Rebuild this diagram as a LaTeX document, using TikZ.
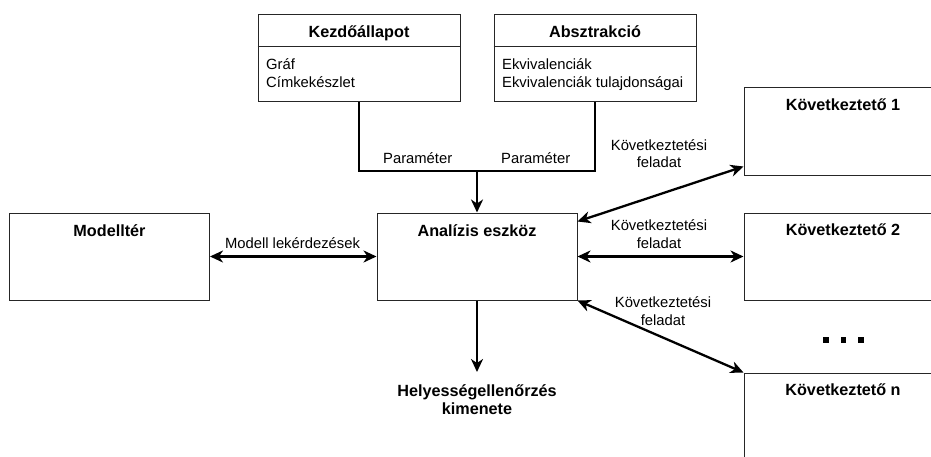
\documentclass[tikz,border=0pt]{standalone}
\usepackage{fontspec}
\setmainfont{Liberation Sans}
\usetikzlibrary{arrows.meta}
\begin{document}
\begin{tikzpicture}[x=1pt,y=-1pt,
  box/.style={draw=black!85, line width=1pt, inner sep=0pt,
    minimum width=#1, minimum height=87pt},
  box/.default=200pt,
  title/.style={font=\fontsize{16.2}{18.2}\selectfont\bfseries, anchor=base,
    inner sep=0pt, align=center},
  body/.style={font=\fontsize{14.8}{17.6}\selectfont, anchor=base,
    inner sep=0pt},
  bodyleft/.style={body, anchor=base west, align=left},
  lbl/.style={body, align=center},
  wire/.style={line width=2.3pt, black},
  arr/.style={wire, -{Stealth[length=13pt,width=12pt,inset=4pt]}},
  biarr/.style={wire, {Stealth[length=13pt,width=12pt,inset=4pt]}-{Stealth[length=13pt,width=12pt,inset=4pt]}},
  dot/.style={fill=black, inner sep=0pt, minimum size=5.5pt}]
\useasboundingbox (0,0) rectangle (931,457);

% parameter sources
\node[box=202pt] (k) at (359,58.5) {};
\draw[black!85, line width=1pt] ([yshift=-32pt]k.north west) -- ([yshift=-32pt]k.north east);
\node[title] (kt) at (359,37.5) {Kezdőállapot};
\node[bodyleft] (k1t) at (266,70) {Gráf};
\node[bodyleft] (k2t) at (266,87.6) {Címkekészlet};

\node[box=202pt] (a) at (595,58.5) {};
\draw[black!85, line width=1pt] ([yshift=-32pt]a.north west) -- ([yshift=-32pt]a.north east);
\node[title] (at) at (595,37.5) {Absztrakció};
\node[bodyleft] (a1t) at (502,70) {Ekvivalenciák};
\node[bodyleft] (a2t) at (502,87.6) {Ekvivalenciák tulajdonságai};

% main blocks
\node[box] (m) at (109.5,256.5) {};
\node[title] (mt) at (109.5,236.5) {Modelltér};
\node[box] (ana) at (477,256.5) {};
\node[title] (anat) at (477,236.2) {Analízis eszköz};

% reasoners (running off the right edge)
\node[box, minimum height=88pt] (r1) at (844,132) {};
\node[title] (r1t) at (843,110.7) {Következtető 1};
\node[box] (r2) at (844,256.5) {};
\node[title] (r2t) at (843,235.7) {Következtető 2};
\node[box] (rn) at (844,416.5) {};
\node[title] (rnt) at (843,395) {Következtető n};

\node[dot] (d1) at (826,340) {};
\node[dot] (d2) at (843.5,340) {};
\node[dot] (d3) at (861,340) {};

% parameter wiring
\coordinate (j) at (477,171);
\draw[wire] (k.south) |- (j) -| (a.south);
\draw[arr] (j) -- (ana.north);
\node[body] (p1) at (417.7,163.5) {Paraméter};
\node[body] (p2) at (535.7,163.5) {Paraméter};

% model queries
\draw[biarr] (m.east) -- (ana.west);
\node[body] (mq) at (292.5,248.7) {Modell lekérdezések};

% reasoning tasks (base anchor sits on the last line)
\draw[biarr] ([yshift=-9pt]ana.north east) -- ([yshift=10pt]r1.south west);
\draw[biarr] (ana.east) -- (r2.west);
\draw[biarr] (ana.south east) -- (rn.north west);
\node[lbl] (t1) at (659,168) {Következtetési\\feladat};
\node[lbl] (t2) at (659,248) {Következtetési\\feladat};
\node[lbl] (t3) at (663,325) {Következtetési\\feladat};

% verification output
\coordinate (hout) at (477,372);
\draw[arr] (ana.south) -- (hout);
\node[title] (h) at (477,414.7) {Helyességellenőrzés\\kimenete};
\end{tikzpicture}
\end{document}
